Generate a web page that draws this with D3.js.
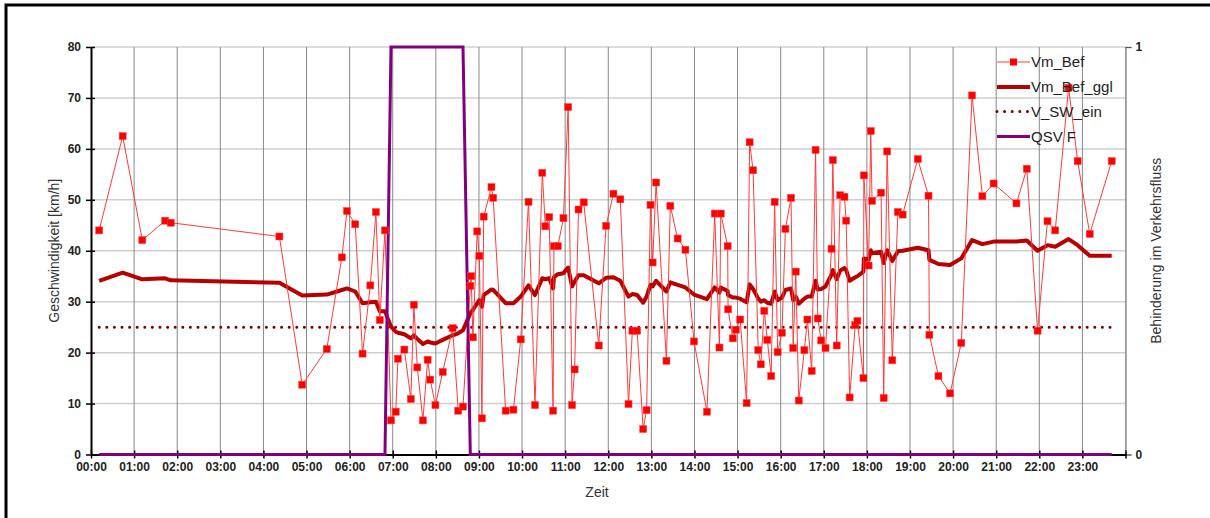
<!DOCTYPE html>
<html>
<head>
<meta charset="utf-8">
<script src="https://cdn.jsdelivr.net/npm/d3@7"></script>
<style>
  body { margin: 0; background: #fff; }
  svg { display: block; font-family: "Liberation Sans", Arial, sans-serif; }
</style>
</head>
<body>
<svg id="root"></svg>
<script>
// time of day in hours
const zeit = [
  0.19, 0.735, 1.19, 1.72, 1.85, 4.37, 4.90, 5.47, 5.82, 5.94,
  6.13, 6.30, 6.48, 6.61, 6.70, 6.82, 6.96, 7.07, 7.12, 7.27,
  7.42, 7.49, 7.57, 7.70, 7.81, 7.87, 7.99, 8.16, 8.39, 8.52,
  8.63, 8.80, 8.82, 8.86, 8.96, 9.01, 9.07, 9.11, 9.29, 9.33,
  9.62, 9.80, 9.97, 10.15, 10.30, 10.47, 10.54, 10.63, 10.72, 10.74,
  10.83, 10.96, 11.07, 11.16, 11.22, 11.31, 11.43, 11.78, 11.95, 12.12,
  12.28, 12.47, 12.56, 12.67, 12.81, 12.89, 12.98, 13.03, 13.11, 13.35,
  13.44, 13.61, 13.79, 13.99, 14.29, 14.47, 14.58, 14.61, 14.77, 14.78,
  14.89, 14.96, 15.06, 15.21, 15.28, 15.36, 15.48, 15.54, 15.62, 15.69,
  15.78, 15.86, 15.93, 16.03, 16.11, 16.24, 16.29, 16.35, 16.42, 16.55,
  16.62, 16.72, 16.81, 16.86, 16.94, 17.04, 17.18, 17.21, 17.30, 17.38,
  17.48, 17.52, 17.60, 17.73, 17.78, 17.92, 17.93, 18.04, 18.09, 18.12,
  18.33, 18.39, 18.47, 18.59, 18.72, 18.83, 19.18, 19.43, 19.45, 19.66,
  19.93, 20.19, 20.44, 20.68, 20.94, 21.47, 21.71, 21.96, 22.19, 22.37,
  22.68, 22.89, 23.17, 23.68
];

const vmBef = [
  44.0, 62.5, 42.1, 45.9, 45.5, 42.8, 13.7, 20.7, 38.7, 47.8,
  45.2, 19.8, 33.2, 47.6, 26.4, 44.0, 6.7, 8.4, 18.8, 20.6,
  10.9, 29.4, 17.1, 6.7, 18.6, 14.7, 9.7, 16.2, 24.8, 8.6,
  9.4, 33.1, 35.0, 23.0, 43.8, 39.0, 7.1, 46.7, 52.5, 50.4,
  8.6, 8.8, 22.6, 49.6, 9.7, 55.3, 44.8, 46.6, 8.6, 40.9,
  40.9, 46.4, 68.2, 9.7, 16.7, 48.1, 49.5, 21.4, 44.9, 51.2,
  50.1, 9.9, 24.3, 24.3, 5.0, 8.7, 49.0, 37.7, 53.4, 18.4,
  48.8, 42.4, 40.2, 22.2, 8.4, 47.3, 21.0, 47.3, 40.9, 28.5,
  22.8, 24.5, 26.5, 10.1, 61.3, 55.8, 20.5, 17.7, 28.2, 22.5,
  15.4, 49.6, 20.1, 23.9, 44.3, 50.4, 20.9, 35.9, 10.6, 20.5,
  26.5, 16.4, 59.8, 26.7, 22.4, 20.9, 40.4, 57.8, 21.4, 50.9,
  50.6, 45.9, 11.2, 25.4, 26.2, 15.0, 54.8, 37.1, 63.5, 49.8,
  51.4, 11.1, 59.5, 18.5, 47.6, 47.1, 58.0, 50.8, 23.5, 15.4,
  12.0, 21.9, 70.5, 50.7, 53.2, 49.3, 56.1, 24.3, 45.8, 44.0,
  72.0, 57.6, 43.3, 57.6
];

const vmBefGgl = [
  34.1, 35.7, 34.4, 34.6, 34.2, 33.7, 31.2, 31.4, 32.3, 32.6,
  32.0, 29.7, 29.9, 30.0, 28.1, 28.1, 25.1, 24.1, 23.9, 23.6,
  22.8, 23.4, 22.7, 21.7, 22.2, 22.0, 21.8, 22.5, 23.4, 23.8,
  24.4, 27.7, 28.0, 28.4, 29.7, 30.3, 29.0, 31.3, 32.4, 32.3,
  29.7, 29.7, 31.0, 33.2, 31.3, 34.6, 34.4, 34.6, 32.6, 34.8,
  35.4, 35.6, 36.7, 33.0, 33.9, 35.2, 35.2, 33.6, 34.7, 34.8,
  34.1, 31.0, 31.5, 31.3, 29.8, 31.0, 33.3, 33.0, 34.1, 32.0,
  33.8, 33.3, 32.8, 31.4, 30.5, 32.8, 31.8, 32.8, 32.1, 31.3,
  30.8, 30.8, 30.6, 29.9, 33.4, 32.5, 30.6, 30.0, 30.3, 29.8,
  29.6, 32.0, 30.3, 30.8, 32.3, 32.6, 30.3, 31.0, 29.6, 30.6,
  31.0, 31.0, 34.1, 32.4, 32.5, 33.0, 35.3, 36.2, 34.4, 36.1,
  36.6, 36.2, 34.1, 34.8, 35.0, 35.9, 38.5, 38.2, 40.1, 39.5,
  39.8, 37.6, 40.1, 38.0, 39.9, 40.0, 40.6, 40.1, 38.2, 37.4,
  37.2, 38.5, 42.1, 41.3, 41.8, 41.8, 42.0, 40.0, 41.1, 40.8,
  42.3, 41.1, 39.0, 39.0
];

const vSwEin = 25;

// QSV F: 1 = Behinderung (secondary axis)
const qsvF = zeit.map((t, i) => (i >= 16 && i <= 30) ? 1 : 0);

const yTicks = [0, 10, 20, 30, 40, 50, 60, 70, 80];
const hourTicks = d3.range(0, 25);
const legendNames = ["Vm_Bef", "Vm_Bef_ggl", "V_SW_ein", "QSV F"];

const width = 1210;
const height = 518;

const svg = d3.select("#root")
  .attr("width", width)
  .attr("height", height);

// outer frame
svg.append("rect")
  .attr("x", 6).attr("y", 5)
  .attr("width", width + 10).attr("height", height + 10)
  .attr("fill", "none")
  .attr("stroke", "#000")
  .attr("stroke-width", 3);

const x = d3.scaleLinear().domain([0, 24]).range([91, 1125.5]);
const y = d3.scaleLinear().domain([0, 80]).range([454.5, 47]);
const y2 = d3.scaleLinear().domain([0, 1]).range([454.5, 47]);

// gridlines
svg.append("g")
  .selectAll("line")
  .data(yTicks.filter(d => d > 0))
  .enter()
  .append("line")
  .attr("x1", x(0)).attr("x2", x(24))
  .attr("y1", d => y(d)).attr("y2", d => y(d))
  .attr("stroke", "#cfcfcf")
  .attr("stroke-width", 1.5);

svg.append("g")
  .selectAll("line")
  .data(hourTicks.filter(d => d > 0))
  .enter()
  .append("line")
  .attr("x1", d => x(d)).attr("x2", d => x(d))
  .attr("y1", y(0)).attr("y2", y(80))
  .attr("stroke", "#888")
  .attr("stroke-width", 1);

// right axis (secondary)
const yAxisR = d3.axisRight(y2).tickValues([0, 1]).tickSize(6).tickFormat(d3.format("d"));
const gR = svg.append("g")
  .attr("transform", `translate(${x(24)},0)`)
  .call(yAxisR);
gR.select(".domain").attr("stroke", "#9a9a9a").attr("stroke-width", 1.5);
gR.selectAll(".tick line").attr("stroke", "#555");
gR.selectAll("text")
  .attr("x", 10)
  .attr("font-size", 12)
  .attr("font-weight", "bold")
  .attr("fill", "#222");

// data
const pts = zeit.map((t, i) => ({ t, v: vmBef[i], g: vmBefGgl[i], q: qsvF[i] }));

const line = (acc, sc) => d3.line().x(d => x(d.t)).y(d => sc(acc(d)));

// V_SW_ein dotted
svg.append("path")
  .datum(pts)
  .attr("d", line(() => vSwEin, y))
  .attr("fill", "none")
  .attr("stroke", "#7a0000")
  .attr("stroke-width", 3)
  .attr("stroke-linecap", "round")
  .attr("stroke-dasharray", "0 7.6");

// Vm_Bef_ggl
svg.append("path")
  .datum(pts)
  .attr("d", line(d => d.g, y))
  .attr("fill", "none")
  .attr("stroke", "#b80000")
  .attr("stroke-width", 4)
  .attr("stroke-linejoin", "round");

// Vm_Bef thin line
svg.append("path")
  .datum(pts)
  .attr("d", line(d => d.v, y))
  .attr("fill", "none")
  .attr("stroke", "#ff3a3a")
  .attr("stroke-width", 1);

// left axis
const yAxisL = d3.axisLeft(y).tickValues(yTicks).tickSize(0);
const gL = svg.append("g")
  .attr("transform", `translate(${x(0)},0)`)
  .call(yAxisL);
gL.select(".domain").attr("stroke", "#000").attr("stroke-width", 2);
gL.selectAll(".tick").append("line")
  .attr("x1", -5).attr("x2", 4)
  .attr("stroke", "#000").attr("stroke-width", 1.5);
gL.selectAll("text")
  .attr("x", -10)
  .attr("dy", "0.3em")
  .attr("font-size", 12)
  .attr("font-weight", "bold")
  .attr("fill", "#222");

// bottom axis
const xAxis = d3.axisBottom(x)
  .tickValues(hourTicks)
  .tickSize(0)
  .tickFormat(d => d < 24 ? `${String(d).padStart(2, "0")}:00` : "");
const gX = svg.append("g")
  .attr("transform", `translate(0,${y(0)})`)
  .call(xAxis);
gX.select(".domain").attr("stroke", "#000").attr("stroke-width", 2);
gX.selectAll(".tick").append("line")
  .attr("y1", -4).attr("y2", 4)
  .attr("stroke", "#000").attr("stroke-width", 1.5);
gX.selectAll("text")
  .attr("y", 8)
  .attr("font-size", 12)
  .attr("font-weight", "bold")
  .attr("fill", "#222");

// QSV F on secondary axis
svg.append("path")
  .datum(pts)
  .attr("d", line(d => d.q, y2))
  .attr("fill", "none")
  .attr("stroke", "#800080")
  .attr("stroke-width", 3);

// Vm_Bef markers
svg.append("g")
  .selectAll("rect")
  .data(pts)
  .enter()
  .append("rect")
  .attr("x", d => x(d.t) - 3.5)
  .attr("y", d => y(d.v) - 3.5)
  .attr("width", 7).attr("height", 7)
  .attr("fill", "#ff0000")
  .attr("stroke", "#ff4040")
  .attr("stroke-width", 0.5);

// axis titles
svg.append("text")
  .attr("transform", `translate(59,${(y(0) + y(80)) / 2}) rotate(-90)`)
  .attr("text-anchor", "middle")
  .attr("font-size", 14)
  .attr("fill", "#333")
  .text("Geschwindigkeit [km/h]");

svg.append("text")
  .attr("transform", `translate(1161,${(y(0) + y(80)) / 2}) rotate(-90)`)
  .attr("text-anchor", "middle")
  .attr("font-size", 14)
  .attr("fill", "#333")
  .text("Behinderung im Verkehrsfluss");

svg.append("text")
  .attr("x", 597).attr("y", 497)
  .attr("text-anchor", "middle")
  .attr("font-size", 14)
  .attr("fill", "#333")
  .text("Zeit");

// legend
const legend = svg.append("g").attr("transform", "translate(997,62)");
const items = legend.selectAll("g")
  .data(legendNames)
  .enter()
  .append("g")
  .attr("transform", (d, i) => `translate(0,${[0, 25, 49.5, 74.5][i]})`);

items.append("line")
  .attr("x1", 0).attr("x2", 33)
  .attr("stroke", (d, i) => ["#ff3a3a", "#b80000", "#7a0000", "#800080"][i])
  .attr("stroke-width", (d, i) => [1, 4, 3, 3][i])
  .attr("stroke-linecap", (d, i) => i === 2 ? "round" : "butt")
  .attr("stroke-dasharray", (d, i) => i === 2 ? "0 7.6" : null);

items.filter((d, i) => i === 0).append("rect")
  .attr("x", 13).attr("y", -3.5)
  .attr("width", 7).attr("height", 7)
  .attr("fill", "#ff0000");

items.append("text")
  .attr("x", 34)
  .attr("dy", "0.35em")
  .attr("font-size", 15)
  .attr("fill", "#222")
  .text(d => d);
</script>
</body>
</html>
